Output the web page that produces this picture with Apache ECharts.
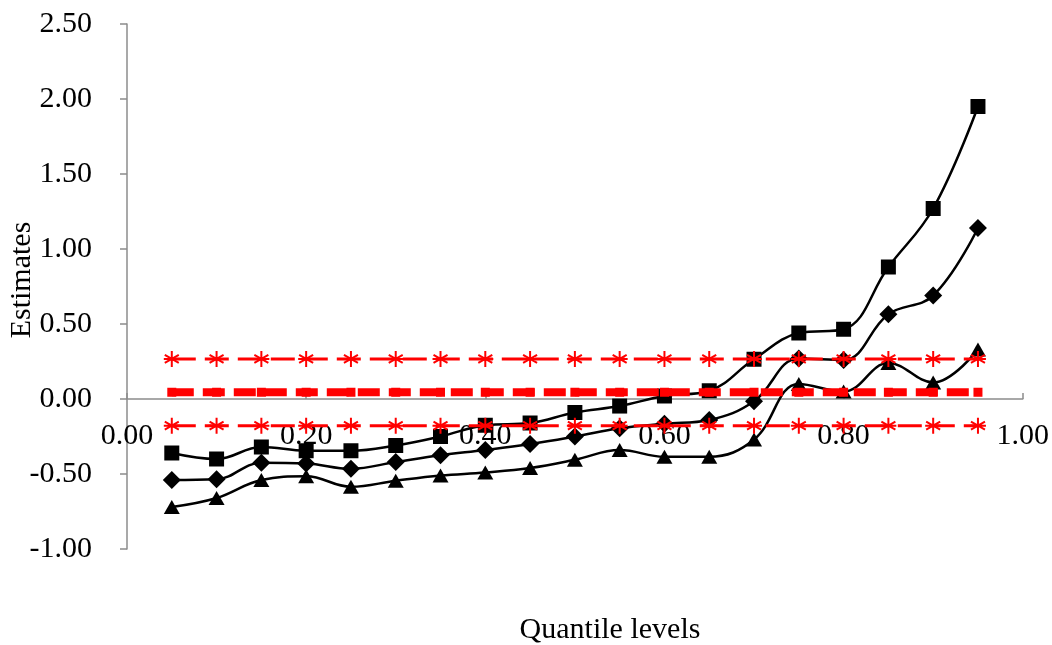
<!DOCTYPE html>
<html>
<head>
<meta charset="utf-8">
<script src="https://cdn.jsdelivr.net/npm/echarts@6/dist/echarts.min.js"></script>
<style>
  html, body { margin: 0; padding: 0; background: #fff; }
  #chart { width: 1052px; height: 645px; }
</style>
</head>
<body>
<div id="chart"></div>
<script>
// Quantile levels on the x axis
const quantiles = [0.05, 0.10, 0.15, 0.20, 0.25, 0.30, 0.35, 0.40, 0.45, 0.50,
                   0.55, 0.60, 0.65, 0.70, 0.75, 0.80, 0.85, 0.90, 0.95];

// Quantile regression: upper band, point estimate, lower band
const qrUpper = [-0.36, -0.40, -0.32, -0.345, -0.345, -0.31, -0.25, -0.175, -0.16, -0.09,
                 -0.047, 0.02, 0.055, 0.265, 0.44, 0.465, 0.88, 1.27, 1.95];
const qrEstimate = [-0.54, -0.535, -0.425, -0.43, -0.465, -0.42, -0.375, -0.34, -0.30, -0.25,
                    -0.195, -0.165, -0.14, -0.015, 0.27, 0.26, 0.565, 0.69, 1.14];
const qrLower = [-0.72, -0.66, -0.54, -0.515, -0.585, -0.545, -0.51, -0.49, -0.46, -0.405,
                 -0.34, -0.385, -0.385, -0.27, 0.10, 0.05, 0.24, 0.11, 0.33];

// OLS estimate and its confidence bounds (constant across quantiles)
const olsUpper = [0.267, 0.267, 0.267, 0.267, 0.267, 0.267, 0.267, 0.267, 0.267, 0.267,
                  0.267, 0.267, 0.267, 0.267, 0.267, 0.267, 0.267, 0.267, 0.267];
const olsEstimate = [0.045, 0.045, 0.045, 0.045, 0.045, 0.045, 0.045, 0.045, 0.045, 0.045,
                     0.045, 0.045, 0.045, 0.045, 0.045, 0.045, 0.045, 0.045, 0.045];
const olsLower = [-0.178, -0.178, -0.178, -0.178, -0.178, -0.178, -0.178, -0.178, -0.178, -0.178,
                  -0.178, -0.178, -0.178, -0.178, -0.178, -0.178, -0.178, -0.178, -0.178];

const FONT = 'Liberation Serif';
const pairs = ys => quantiles.map((q, i) => [q, ys[i]]);

// asterisk marker, drawn as stroked segments in a 16x16 box
const STAR = 'path://M8 0L8 16M1 4L15 12M1 12L15 4M0 8L16 8';

function blackSeries(name, ys, symbol, size) {
  return {
    name, type: 'line', data: pairs(ys), smooth: 0.4,
    symbol, symbolSize: size,
    lineStyle: { color: '#000', width: 2.5 },
    itemStyle: { color: '#000' },
    z: 2
  };
}

function boundSeries(name, ys) {
  return {
    name, type: 'line', data: pairs(ys),
    symbol: STAR, symbolSize: 16,
    lineStyle: { color: '#ff0000', width: 3, type: [24, 9] },
    itemStyle: { color: '#ff0000', borderColor: '#ff0000', borderWidth: 2 },
    z: 3
  };
}

const Y_MIN = -1, Y_MAX = 2.5;

const chart = echarts.init(document.getElementById('chart'), null, { renderer: 'canvas' });
chart.setOption({
  animation: false,
  backgroundColor: '#fff',
  grid: { left: 127, right: 27, top: 24, bottom: 96 },
  title: {
    text: 'Quantile levels',
    left: 605, top: 610, textAlign: 'center',
    textStyle: { fontFamily: FONT, fontSize: 30, fontWeight: 'normal', color: '#000' }
  },
  graphic: [{
    type: 'text', x: 22, y: 280, rotation: Math.PI / 2,
    style: {
      text: 'Estimates', fontFamily: FONT, fontSize: 30, fill: '#000',
      textAlign: 'center', textVerticalAlign: 'middle'
    }
  }],
  xAxis: {
    type: 'value', min: 0, max: 1, interval: 0.2,
    position: 'bottom',
    axisLine: { onZero: false, lineStyle: { color: '#8c8c8c', width: 1.5 } },
    axisTick: { show: true, inside: true, length: 6, lineStyle: { color: '#8c8c8c', width: 1.5 } },
    axisLabel: {
      margin: 22, fontFamily: FONT, fontSize: 30, color: '#000',
      formatter: v => v.toFixed(2)
    },
    splitLine: { show: false }
  },
  yAxis: {
    type: 'value', min: Y_MIN, max: Y_MAX, interval: 0.5,
    axisLine: { show: true, lineStyle: { color: '#8c8c8c', width: 1.5 } },
    axisTick: { show: true, length: 7, lineStyle: { color: '#8c8c8c', width: 1.5 } },
    axisLabel: {
      margin: 35, fontFamily: FONT, fontSize: 30, color: '#000',
      formatter: v => v.toFixed(2)
    },
    splitLine: { show: false }
  },
  series: [
    blackSeries('QR upper', qrUpper, 'rect', 15),
    blackSeries('QR estimate', qrEstimate, 'diamond', 18),
    blackSeries('QR lower', qrLower, 'triangle', [16, 14]),
    boundSeries('OLS upper', olsUpper),
    {
      name: 'OLS estimate', type: 'line', data: pairs(olsEstimate),
      symbol: 'rect', symbolSize: 9,
      lineStyle: { color: '#ff0000', width: 8, type: [22, 9] },
      itemStyle: { color: '#ff0000' },
      z: 3
    },
    boundSeries('OLS lower', olsLower)
  ]
});

// Lift the x axis (line, ticks and labels) up to the y = 0 level.
const zeroY = chart.convertToPixel({ yAxisIndex: 0 }, 0);
const bottomY = chart.convertToPixel({ yAxisIndex: 0 }, Y_MIN);
chart.setOption({ xAxis: { offset: -(bottomY - zeroY) } });
</script>
</body>
</html>
